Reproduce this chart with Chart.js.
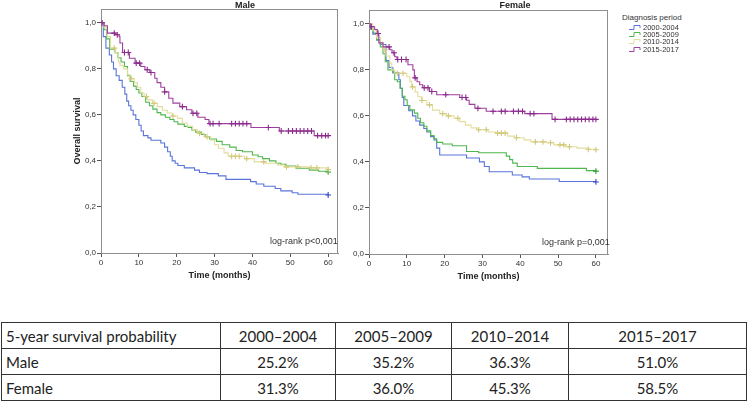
<!DOCTYPE html>
<html>
<head>
<meta charset="utf-8">
<script src="https://cdn.jsdelivr.net/npm/chart.js@4/dist/chart.umd.min.js"></script>
<style>
  html, body { margin:0; padding:0; background:#fff; }
  #wrap { position:relative; width:748px; height:403px; overflow:hidden; background:#fff; }
  canvas { position:absolute; }
  .ttl { position:absolute; font:bold 9px 'Liberation Sans', Arial, sans-serif; color:#222; transform:translateX(-50%); white-space:nowrap; }
  .lr { position:absolute; font:9px 'Liberation Sans', Arial, sans-serif; color:#333; white-space:nowrap; }
  #legend { position:absolute; left:622px; top:13px; font:7.5px 'Liberation Sans', Arial, sans-serif; color:#333; }
  #legend .hd { font-size:8px; margin-bottom:2px; }
  #legend .it { height:7.2px; line-height:7.2px; padding-left:7px; white-space:nowrap; }
  #legend svg { vertical-align:top; margin-right:1px; }
  table { position:absolute; left:1px; top:322px; border-collapse:collapse; font:15px Lato, 'Open Sans', sans-serif; color:#222; table-layout:fixed; }
  td { border:1.5px solid #333; height:25px; padding:0 4px; text-align:center; white-space:nowrap; overflow:hidden; }
  td.f { text-align:left; }
</style>
</head>
<body>
<div id="wrap">
  <canvas id="cm" width="270" height="281" style="left:72px;top:0px"></canvas>
  <canvas id="cf" width="267" height="282" style="left:345px;top:0px"></canvas>
  <div class="ttl" style="left:245px;top:0px">Male</div>
  <div class="ttl" style="left:515px;top:0px">Female</div>
  <div class="lr" style="left:270px;top:236px">log-rank p&lt;0,001</div>
  <div class="lr" style="left:542px;top:237px">log-rank p=0,001</div>
  <div id="legend"></div>
  <table id="tbl"></table>
</div>
<script>
// ---------- data ----------
const periods = ['2000-2004', '2005-2009', '2010-2014', '2015-2017'];
const tablePeriods = ['2000–2004', '2005–2009', '2010–2014', '2015–2017'];
const tableHeader = '5-year survival probability';
const tableRows = ['Male', 'Female'];
const maleFiveYear = ['25.2%', '35.2%', '36.3%', '51.0%'];
const femaleFiveYear = ['31.3%', '36.0%', '45.3%', '58.5%'];
const xTicks = [0, 10, 20, 30, 40, 50, 60];
const yTicks = [0, 0.2, 0.4, 0.6, 0.8, 1.0];

// Male 2000-2004
const mBlueT = [0,0.6,1.3,2.2,2.8,3.3,4.0,4.8,5.6,6.3,6.8,7.3,7.9,8.5,9.2,10.0,10.6,11.2,12.4,13.2,15.8,16.8,17.6,18.3,18.8,19.6,20.3,22.0,24.7,26.0,28.0,31.0,33.0,39.5,41.0,43.0,46.0,47.5,50.5,52.0,60];
const mBlueS = [1,0.94,0.89,0.86,0.83,0.80,0.77,0.75,0.72,0.69,0.66,0.64,0.62,0.60,0.58,0.555,0.53,0.51,0.50,0.49,0.478,0.46,0.44,0.42,0.40,0.39,0.38,0.37,0.36,0.35,0.345,0.335,0.32,0.31,0.30,0.29,0.28,0.27,0.262,0.255,0.252];
const mBlueC = [60];
// Male 2005-2009
const mGreenT = [0,0.8,1.5,2.3,3.7,4.5,5.3,6.2,7.0,7.7,8.6,9.3,10.0,10.8,11.8,12.8,13.7,14.8,15.8,17.0,18.2,19.3,20.3,22.0,23.0,24.0,25.0,26.5,27.5,28.7,30.5,32.0,34.0,35.7,37.4,40.0,41.5,42.7,44.5,46.2,47.5,48.9,51.5,55.0,57.5,60];
const mGreenS = [1,0.97,0.93,0.885,0.87,0.848,0.83,0.81,0.77,0.745,0.725,0.71,0.695,0.68,0.655,0.64,0.625,0.61,0.60,0.59,0.58,0.57,0.56,0.55,0.545,0.535,0.525,0.515,0.505,0.495,0.485,0.47,0.46,0.445,0.44,0.426,0.418,0.41,0.40,0.39,0.385,0.378,0.368,0.36,0.355,0.352];
const mGreenC = [60];
// Male 2010-2014
const mYellowT = [0,0.8,1.6,2.5,3.7,4.6,5.0,6.0,7.0,7.6,8.8,9.6,10.5,11.4,12.3,13.6,14.9,16.2,17.5,18.8,20.2,21.5,22.8,24.2,25.5,27.2,29.0,30.0,31.0,32.5,33.6,37.9,40.5,43.5,46.6,48.4,55.0,60];
const mYellowS = [1,0.98,0.94,0.89,0.87,0.83,0.815,0.80,0.775,0.757,0.74,0.72,0.695,0.68,0.665,0.65,0.636,0.62,0.608,0.595,0.585,0.565,0.55,0.535,0.52,0.505,0.49,0.47,0.455,0.435,0.42,0.41,0.396,0.39,0.383,0.374,0.37,0.363];
const mYellowC = [3.5,8,12,14,19,26,28,34.5,35.5,36.5,38.5,43,49,52,55.5,57,60];
// Male 2015-2017
const mPurpleT = [0,0.8,1.7,3.7,4.8,5.0,5.7,7.5,9.0,10.5,11.6,12.9,14.2,14.8,15.8,16.8,17.9,19.0,20.8,22.6,24.0,25.6,27.5,28.5,39.6,47.1,56.3,60];
const mPurpleS = [1,0.987,0.955,0.948,0.94,0.912,0.871,0.846,0.825,0.81,0.796,0.784,0.759,0.74,0.72,0.70,0.672,0.651,0.636,0.622,0.607,0.59,0.58,0.562,0.545,0.53,0.51,0.51];
const mPurpleC = [0.3,3.5,4.3,6.2,7.2,9.3,10.2,12.2,13.2,16.8,21.5,24.3,25.3,28.8,29.6,31.2,34.5,35.5,36.5,37.5,38.5,44.2,47.6,49.5,50.6,51.6,52.6,53.6,54.6,55.6,57.2,58.3,59.3,60];

// Female 2000-2004
const fBlueT = [0,0.4,1.0,2.0,3.0,4.5,5.3,6.3,7.9,8.3,8.8,9.2,10.5,11.5,12.4,13.4,14.5,15.3,16.3,17.2,17.9,18.7,25.8,29.2,30.5,31.8,37.9,40.5,42.4,50.3,60];
const fBlueS = [1,0.98,0.955,0.93,0.91,0.84,0.81,0.787,0.757,0.72,0.68,0.645,0.622,0.60,0.578,0.56,0.545,0.53,0.51,0.495,0.46,0.43,0.417,0.40,0.38,0.357,0.343,0.335,0.326,0.315,0.313];
const fBlueC = [60];
// Female 2005-2009
const fGreenT = [0,0.5,1.2,2.0,3.0,3.7,4.3,5.0,6.3,6.8,7.5,8.2,8.8,9.5,10.1,10.8,12.0,12.9,13.6,14.5,15.3,16.3,17.2,17.9,19.5,22.0,25.8,29.0,36.3,37.2,38.0,39.2,44.5,57.5,60];
const fGreenS = [1,0.975,0.96,0.93,0.90,0.87,0.835,0.80,0.79,0.757,0.748,0.72,0.685,0.67,0.645,0.626,0.612,0.59,0.57,0.555,0.535,0.515,0.50,0.485,0.478,0.47,0.445,0.44,0.425,0.41,0.395,0.38,0.372,0.362,0.36];
const fGreenC = [60];
// Female 2010-2014
const fYellowT = [0,1.0,2.0,3.0,3.7,4.5,5.5,6.0,6.8,10.0,10.8,11.3,12.2,12.9,14.0,15.3,16.8,18.7,20.5,22.5,24.0,25.5,27.0,28.5,31.5,33.5,36.7,38.5,41.0,42.8,47.0,48.9,52.0,55.0,57.5,60];
const fYellowS = [1,0.97,0.94,0.92,0.887,0.86,0.83,0.80,0.785,0.77,0.75,0.726,0.704,0.683,0.667,0.648,0.625,0.61,0.60,0.59,0.575,0.56,0.548,0.54,0.53,0.525,0.512,0.505,0.496,0.487,0.483,0.474,0.466,0.46,0.455,0.453];
const fYellowC = [4.2,7.5,9,11.5,14,16,19.5,21,23.5,29,31,34,35,36,39,44,46,48,50.5,51.5,53,58,60];
// Female 2015-2017
const fPurpleT = [0,0.5,1.5,2.2,2.6,3.7,5.5,6.1,6.8,7.4,10.3,11.6,12.0,12.7,13.4,14.2,16.0,17.9,24.0,25.8,26.5,28.0,31.0,41.2,48.4,60];
const fPurpleS = [1,0.987,0.975,0.958,0.917,0.90,0.887,0.874,0.857,0.845,0.822,0.80,0.765,0.748,0.735,0.722,0.706,0.692,0.68,0.668,0.65,0.633,0.62,0.61,0.585,0.585];
const fPurpleC = [0.6,2.4,5.3,6.6,7.6,8.6,9.8,12.2,14.6,15.6,16.6,20.3,24.6,25.6,28.8,32.8,35,36,38.2,39.5,40.6,42.6,43.6,49.2,52.2,53.2,54.2,55.2,56.2,57.2,58.2,59.2,60];

// ---------- styles ----------
const lineColors = ['#5a74d8', '#4fb74f', '#e3dd9c', '#a03fa0'];
const markColors = ['#3446c4', '#2ea02e', '#d2c87a', '#8a2a8a'];
const FONT = "'Liberation Sans', Arial, sans-serif";

function survAt(T, S, t) {
  let v = S[0];
  for (let i = 0; i < T.length; i++) { if (T[i] <= t) v = S[i]; else break; }
  return v;
}
function kmPoints(T, S, C) {
  const pts = T.map((t, i) => ({ x: t, y: S[i], c: false }));
  C.forEach(t => pts.push({ x: t, y: survAt(T, S, t), c: true }));
  pts.sort((a, b) => (a.x - b.x) || (a.c ? 1 : -1));
  return pts;
}
function ds(i, T, S, C) {
  return {
    label: periods[i],
    data: kmPoints(T, S, C),
    stepped: 'before',
    borderColor: lineColors[i],
    borderWidth: 1.1,
    fill: false,
    pointStyle: 'cross',
    pointRadius: c => (c.raw && c.raw.c) ? 2.9 : 0,
    pointHoverRadius: 0,
    pointBorderColor: markColors[i],
    pointBorderWidth: 1.1,
    order: 4 - i
  };
}
const frame = {
  id: 'frame',
  beforeDatasetsDraw(chart) {
    const a = chart.chartArea, ctx = chart.ctx;
    ctx.save();
    ctx.strokeStyle = '#8f8f8f';
    ctx.lineWidth = 1;
    ctx.strokeRect(a.left + 0.5, a.top + 0.5, a.right - a.left - 1, a.bottom - a.top);
    ctx.restore();
  }
};
function makeChart(id, datasets, xMax, yW, xH, padTop, yTitle) {
  return new Chart(document.getElementById(id), {
    type: 'line',
    data: { datasets },
    plugins: [frame],
    options: {
      responsive: false, animation: false, devicePixelRatio: 1,
      layout: { padding: { top: padTop, right: 3, left: 0, bottom: 0 } },
      plugins: { legend: { display: false }, tooltip: { enabled: false } },
      scales: {
        x: {
          type: 'linear', min: 0, max: xMax,
          afterBuildTicks: s => { s.ticks = xTicks.map(v => ({ value: v })); },
          afterFit: s => { s.height = xH; },
          ticks: { font: { size: 8, family: FONT }, color: '#333', padding: 1, maxRotation: 0 },
          grid: { drawOnChartArea: false, drawTicks: true, tickLength: 4, color: '#555' },
          border: { display: true, color: '#8f8f8f' },
          title: { display: true, text: 'Time (months)', font: { size: 9, weight: 'bold', family: FONT }, color: '#222', padding: 0 }
        },
        y: {
          type: 'linear', min: 0, max: 1.06,
          afterBuildTicks: s => { s.ticks = yTicks.map(v => ({ value: v })); },
          afterFit: s => { s.width = yW; },
          ticks: { font: { size: 8, family: FONT }, color: '#333', padding: 1, callback: v => v.toFixed(1).replace('.', ',') },
          grid: { drawOnChartArea: false, drawTicks: true, tickLength: 4, color: '#555' },
          border: { display: true, color: '#8f8f8f' },
          title: { display: yTitle, text: 'Overall survival', font: { size: 9, weight: 'bold', family: FONT }, color: '#222', padding: 0 }
        }
      }
    }
  });
}
makeChart('cm', [
  ds(0, mBlueT, mBlueS, mBlueC), ds(1, mGreenT, mGreenS, mGreenC),
  ds(2, mYellowT, mYellowS, mYellowC), ds(3, mPurpleT, mPurpleS, mPurpleC)
], 62.6, 29, 28, 9, true);
makeChart('cf', [
  ds(0, fBlueT, fBlueS, fBlueC), ds(1, fGreenT, fGreenS, fGreenC),
  ds(2, fYellowT, fYellowS, fYellowC), ds(3, fPurpleT, fPurpleS, fPurpleC)
], 63.2, 24, 28, 10, false);

// legend
const lg = document.getElementById('legend');
let h = '<div class="hd">Diagnosis period</div>';
periods.forEach((p, i) => {
  h += '<div class="it"><svg width="13" height="7"><polyline points="0,5.5 5,5.5 5,1.5 11,1.5 11,4" fill="none" stroke="' + lineColors[i] + '" stroke-width="1"/></svg>' + p + '</div>';
});
lg.innerHTML = h;

// table
const widths = [219, 115, 116, 117, 178];
let t = '<colgroup>' + widths.map(w => '<col style="width:' + w + 'px">').join('') + '</colgroup>';
t += '<tr><td class="f">' + tableHeader + '</td>' + tablePeriods.map(p => '<td>' + p + '</td>').join('') + '</tr>';
t += '<tr><td class="f">' + tableRows[0] + '</td>' + maleFiveYear.map(v => '<td>' + v + '</td>').join('') + '</tr>';
t += '<tr><td class="f">' + tableRows[1] + '</td>' + femaleFiveYear.map(v => '<td>' + v + '</td>').join('') + '</tr>';
const tbl = document.getElementById('tbl');
tbl.innerHTML = t;
tbl.style.width = widths.reduce((a, b) => a + b, 0) + 'px';
</script>
</body>
</html>
